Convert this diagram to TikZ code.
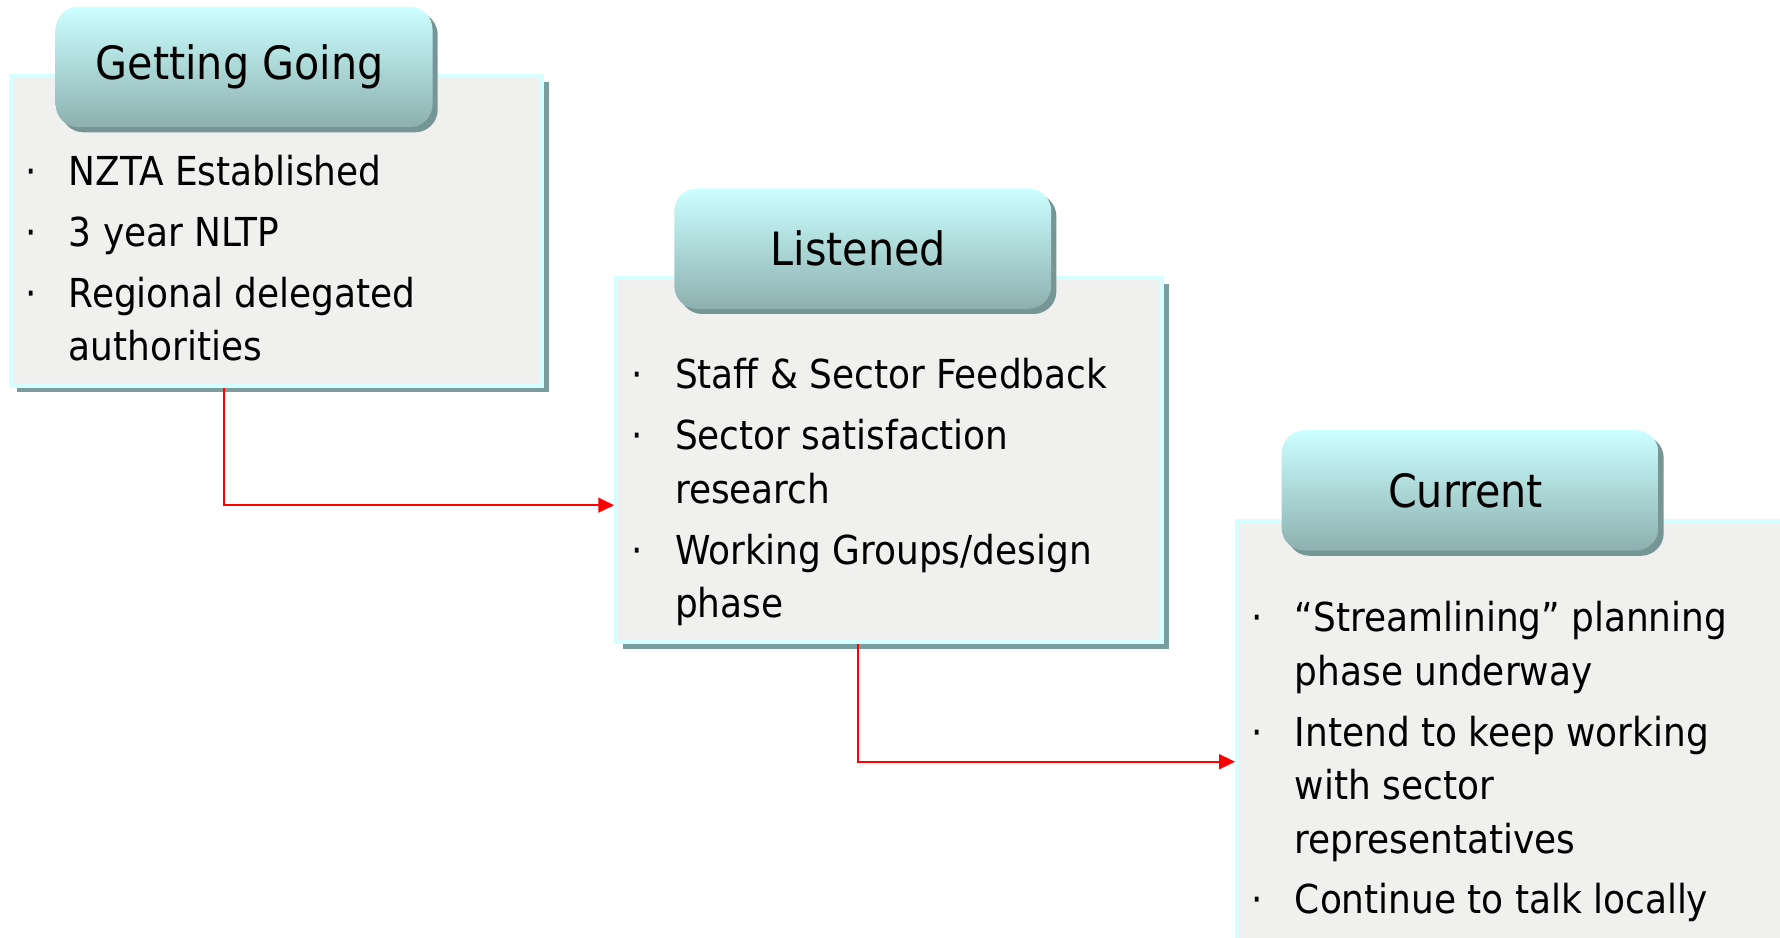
\documentclass[tikz,border=0pt]{standalone}
\usepackage{fontspec}
\setmainfont{DejaVu Sans Condensed}
\usetikzlibrary{arrows.meta,shadows}

\definecolor{panelgray}{RGB}{240,240,238}
\definecolor{rimcyan}{RGB}{214,255,255}
\definecolor{rimteal}{RGB}{122,158,158}
\definecolor{tabtop}{RGB}{204,255,255}
\definecolor{tabbot}{RGB}{141,176,176}
\definecolor{tabshade}{RGB}{118,150,150}

\newcommand{\bul}{\makebox[0.38cm][l]{·}}
\newcommand{\indt}{\hspace*{0.38cm}}

\begin{document}
\begin{tikzpicture}[
    panel/.style={rectangle, anchor=north west, fill=panelgray, draw=rimcyan, line width=1pt,
        drop shadow={shadow xshift=1.6pt, shadow yshift=-1.6pt, fill=rimteal, opacity=1}},
    tab/.style={rectangle, rounded corners=0.2cm, top color=tabtop, bottom color=tabbot,
        minimum width=3.32cm, minimum height=1.06cm, font=\fontsize{11.5}{14}\selectfont,
        drop shadow={shadow xshift=1.3pt, shadow yshift=-1.3pt, fill=tabshade, opacity=1}},
    items/.style={anchor=base west, align=left, inner sep=0pt, font=\fontsize{10}{13.4}\selectfont},
    flow/.style={draw=red, line width=0.5pt, -{Triangle[length=0.14cm, width=0.13cm]}}
]
    \useasboundingbox (0,0) rectangle (15.68,-8.26);

    % panels
    \node[panel, minimum width=4.68cm, minimum height=2.73cm] (goingbox) at (0.08,-0.65) {};
    \node[panel, minimum width=4.81cm, minimum height=3.21cm] (listenbox) at (5.41,-2.43) {};
    \node[panel, minimum width=5.00cm, minimum height=4.10cm] (currentbox) at (10.88,-4.57) {};

    % tabs
    \node[tab] (goinghead) at (2.15,-0.59) {Getting Going\hspace*{0.08cm}};
    \node[tab] (listenhead) at (7.60,-2.19) {Listened\hspace*{0.08cm}};
    \node[tab] (currenthead) at (12.95,-4.32) {Current\hspace*{0.08cm}};

    % bullet lists (base = last line)
    \node[items] (goingtext) at (0.22,-3.18) {\bul NZTA Established\\[1.85pt]
        \bul 3 year NLTP\\[1.85pt]
        \bul Regional delegated\\ \indt authorities};
    \node[items] (listentext) at (5.56,-5.44) {\bul Staff \& Sector Feedback\\[1.85pt]
        \bul Sector satisfaction\\ \indt research\\[1.85pt]
        \bul Working Groups/design\\ \indt phase};
    \node[items] (currenttext) at (11.02,-8.05) {\bul “Streamlining” planning\\ \indt phase underway\\[1.85pt]
        \bul Intend to keep working\\ \indt with sector\\ \indt representatives\\[1.85pt]
        \bul Continue to talk locally};

    % arrows
    \draw[flow] ([xshift=1.89cm]goingbox.south west) |- ([yshift=-2.02cm]listenbox.north west);
    \draw[flow] ([xshift=2.15cm]listenbox.south west) |- ([yshift=-2.14cm]currentbox.north west);
\end{tikzpicture}
\end{document}
